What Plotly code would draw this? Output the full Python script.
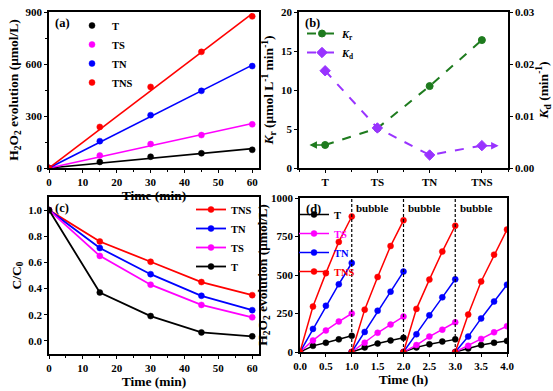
import plotly.graph_objects as go

W, H = 553, 391
FONT = "Liberation Serif"

# ---------------- data ----------------
# (a) H2O2 evolution vs time
t_a = [0, 15, 30, 45, 60]
a_T = [0, 35, 65, 85, 105]
a_TS = [0, 72, 138, 190, 252]
a_TN = [0, 155, 305, 445, 588]
a_TNS = [0, 237, 468, 670, 875]

# (b) rate constants
cats_b = ["T", "TS", "TN", "TNS"]
Kr = [2.95, 5.1, 10.5, 16.4]
Kd = [0.0187, 0.0077, 0.0025, 0.0043]

# (c) C/C0 decay
t_c = [0, 15, 30, 45, 60]
c_TNS = [1.0, 0.76, 0.605, 0.45, 0.35]
c_TN = [1.0, 0.71, 0.51, 0.345, 0.235]
c_TS = [1.0, 0.65, 0.43, 0.275, 0.18]
c_T = [1.0, 0.37, 0.19, 0.065, 0.035]

# (d) cycling (h)
t_cycle = [0, 0.25, 0.5, 0.75, 1.0]
d_T = [[0, 40, 60, 82, 105], [0, 30, 55, 75, 92], [0, 30, 50, 68, 82], [0, 22, 45, 60, 72]]
d_TS = [[0, 75, 140, 198, 250], [0, 60, 125, 178, 230], [0, 45, 100, 145, 193], [0, 40, 85, 128, 168]]
d_TN = [[0, 150, 300, 440, 578], [0, 130, 268, 392, 522], [0, 115, 238, 355, 472], [0, 100, 218, 328, 437]]
d_TNS = [[0, 295, 512, 715, 880], [0, 275, 487, 688, 855], [0, 280, 470, 652, 820], [0, 243, 458, 632, 795]]
bubble_at = [1, 2, 3]

COL = {"T": "#000000", "TS": "#FF00FF", "TN": "#0000FF", "TNS": "#FF0000"}
GREEN = "#1E7B1E"
PURPLE = "#9933FF"


def px_dom_x(a, b):
    return [a / W, b / W]


def px_dom_y(top, bottom):
    return [(H - bottom) / H, (H - top) / H]


fig = go.Figure()

# ---------------- (a) ----------------
series_a = [("T", a_T), ("TS", a_TS), ("TN", a_TN), ("TNS", a_TNS)]
for name, ys in series_a:
    slope = sum(x * y for x, y in zip(t_a, ys)) / sum(x * x for x in t_a)
    fig.add_trace(go.Scatter(x=[t_a[0], t_a[-1]], y=[slope * t_a[0], slope * t_a[-1]],
                             mode="lines", line=dict(color=COL[name], width=1.6),
                             showlegend=False, xaxis="x", yaxis="y"))
for name, ys in series_a:
    fig.add_trace(go.Scatter(x=t_a, y=ys, mode="markers", name=name,
                             marker=dict(color=COL[name], size=6, line=dict(color=COL[name], width=0.5)),
                             xaxis="x", yaxis="y", legend="legend"))

# ---------------- (b) ----------------
xb = list(range(len(cats_b)))
fig.add_trace(go.Scatter(x=xb, y=Kr, mode="lines+markers", name="<i>K</i><sub>r</sub>",
                         line=dict(color=GREEN, width=2, dash="dash"),
                         marker=dict(symbol="circle", size=7, color=GREEN, line=dict(color=GREEN, width=1)),
                         xaxis="x2", yaxis="y2", legend="legend2"))
fig.add_trace(go.Scatter(x=xb, y=Kd, mode="lines+markers", name="<i>K</i><sub>d</sub>",
                         line=dict(color=PURPLE, width=2, dash="dash"),
                         marker=dict(symbol="diamond", size=8, color=PURPLE, line=dict(color=PURPLE, width=1)),
                         xaxis="x2", yaxis="y3", legend="legend2"))

# ---------------- (c) ----------------
series_c = [("TNS", c_TNS), ("TN", c_TN), ("TS", c_TS), ("T", c_T)]
for name, ys in series_c:
    fig.add_trace(go.Scatter(x=t_c, y=ys, mode="lines+markers", name=name,
                             line=dict(color=COL[name], width=1.8),
                             marker=dict(color=COL[name], size=6, line=dict(color=COL[name], width=0.5)),
                             xaxis="x3", yaxis="y4", legend="legend3"))

# ---------------- (d) ----------------
series_d = [("T", d_T), ("TS", d_TS), ("TN", d_TN), ("TNS", d_TNS)]
for name, cycles in series_d:
    xs, ys = [], []
    for k, cyc in enumerate(cycles):
        xs += [k + t for t in t_cycle] + [None]
        ys += list(cyc) + [None]
    fig.add_trace(go.Scatter(x=xs, y=ys, mode="lines+markers",
                             name=f"<span style='color:{COL[name]}'>{name}</span>",
                             line=dict(color=COL[name], width=1.5),
                             marker=dict(color=COL[name], size=6, line=dict(color=COL[name], width=0.5)),
                             xaxis="x4", yaxis="y5", legend="legend4"))

# ---------------- axes ----------------
tickfont = dict(family=FONT, size=11, color="black", weight="bold")
titlefont = dict(family=FONT, size=13.5, color="black", weight="bold")


def ax(**kw):
    base = dict(showgrid=False, zeroline=False, showline=True, linecolor="black", linewidth=1.5,
                ticks="outside", ticklen=3, tickwidth=1.2, tickcolor="black", tickfont=tickfont,
                automargin=False)
    base.update(kw)
    return base


A = dict(l=49, r=259, t=12, b=168)
B = dict(l=299, r=508, t=12, b=168)
C = dict(l=49, r=259, t=197, b=354)
D = dict(l=300, r=507, t=198, b=352)

fig.update_layout(
    template="none",
    width=W, height=H, margin=dict(l=0, r=0, t=0, b=0, autoexpand=False),
    paper_bgcolor="white", plot_bgcolor="white",
    font=dict(family=FONT, color="black"),
    xaxis=ax(domain=px_dom_x(A["l"], A["r"]), anchor="y", range=[0, 62], dtick=10, mirror=True,
             minor=dict(dtick=5, ticks="outside", ticklen=2, tickcolor="black"),
             title=dict(text="Time (min)", font=titlefont, standoff=2)),
    yaxis=ax(domain=px_dom_y(A["t"], A["b"]), anchor="x", range=[0, 900], dtick=300, mirror=True,
             minor=dict(dtick=150, ticks="outside", ticklen=2, tickcolor="black"),
             title=dict(text="H<sub>2</sub>O<sub>2</sub> evolution (μmol/L)", font=titlefont, standoff=4)),
    xaxis2=ax(domain=px_dom_x(B["l"], B["r"]), anchor="y2", range=[-0.5, 3.5], mirror=True,
              tickmode="array", tickvals=xb, ticktext=cats_b,
              minor=dict(tickmode="linear", tick0=0.5, dtick=1, ticks="outside", ticklen=2, tickcolor="black")),
    yaxis2=ax(domain=px_dom_y(B["t"], B["b"]), anchor="x2", range=[0, 20], dtick=5,
              title=dict(text="<i>K</i><sub>r</sub> (μmol L<sup>-1</sup> min<sup>-1</sup>)", font=titlefont, standoff=4)),
    yaxis3=ax(overlaying="y2", anchor="x2", side="right", range=[0, 0.03], dtick=0.01, tickformat=".2f",
              title=dict(text="<i>K</i><sub>d</sub> (min<sup>-1</sup>)", font=titlefont, standoff=2)),
    xaxis3=ax(domain=px_dom_x(C["l"], C["r"]), anchor="y4", range=[0, 62], dtick=10, mirror=True,
              minor=dict(dtick=5, ticks="outside", ticklen=2, tickcolor="black"),
              title=dict(text="Time (min)", font=titlefont, standoff=2)),
    yaxis4=ax(domain=px_dom_y(C["t"], C["b"]), anchor="x3", range=[-0.1, 1.1], dtick=0.2, tickformat=".1f",
              mirror=True, title=dict(text="C/C<sub>0</sub>", font=titlefont, standoff=4)),
    xaxis4=ax(domain=px_dom_x(D["l"], D["r"]), anchor="y5", range=[0, 4], dtick=0.5, tickformat=".1f",
              mirror=True, title=dict(text="Time (h)", font=titlefont, standoff=2)),
    yaxis5=ax(domain=px_dom_y(D["t"], D["b"]), anchor="x4", range=[0, 1000], dtick=250, mirror=True,
              title=dict(text="H<sub>2</sub>O<sub>2</sub> evolution (μmol/L)", font=titlefont, standoff=0)),
)

legfont = dict(family=FONT, size=10.5, color="black", weight="bold")
fig.update_layout(
    legend=dict(x=72 / W, y=(H - 11) / H, xanchor="left", yanchor="top",
                bgcolor="rgba(0,0,0,0)", font=legfont, itemwidth=30, tracegroupgap=0),
    legend2=dict(x=302 / W, y=(H - 19) / H, xanchor="left", yanchor="top",
                 bgcolor="rgba(0,0,0,0)", font=legfont, itemwidth=30),
    legend3=dict(x=(C["r"] - 2) / W, y=(H - 195) / H, xanchor="right", yanchor="top",
                 bgcolor="rgba(0,0,0,0)", font=legfont, itemwidth=30),
    legend4=dict(x=(D["l"] - 6) / W, y=(H - 200) / H, xanchor="left", yanchor="top",
                 bgcolor="rgba(0,0,0,0)", font=legfont, itemwidth=30),
)

# panel labels
for lab, P in [("(a)", A), ("(b)", B), ("(c)", C), ("(d)", D)]:
    fig.add_annotation(text=lab, xref="paper", yref="paper", x=(P["l"] + 4) / W, y=(H - P["t"] - 2) / H,
                       xanchor="left", yanchor="top", showarrow=False,
                       font=dict(family=FONT, size=12.5, color="black", weight="bold"))

# arrows in (b)
fig.add_annotation(x=xb[0] - 0.3, y=Kr[0], ax=xb[0], ay=Kr[0], xref="x2", yref="y2", axref="x2", ayref="y2",
                   showarrow=True, arrowhead=2, arrowsize=1, arrowwidth=1.5, arrowcolor=GREEN, text="")
fig.add_annotation(x=xb[-1] + 0.32, y=Kd[-1], ax=xb[-1], ay=Kd[-1], xref="x2", yref="y3", axref="x2", ayref="y3",
                   showarrow=True, arrowhead=2, arrowsize=1, arrowwidth=1.5, arrowcolor=PURPLE, text="")

# bubble separators in (d)
for xv in bubble_at:
    fig.add_shape(type="line", xref="x4", yref="y5 domain", x0=xv, x1=xv, y0=0, y1=1,
                  line=dict(color="black", width=1.2, dash="3px,2px"))
    fig.add_annotation(text="bubble", xref="x4", yref="y5 domain", x=xv + 0.05, y=0.985,
                       xanchor="left", yanchor="top", showarrow=False,
                       font=dict(family=FONT, size=11, color="black", weight="bold"))

fig.write_html("out.html", config={"displayModeBar": False},
               post_script="document.body.style.margin='0px';")
